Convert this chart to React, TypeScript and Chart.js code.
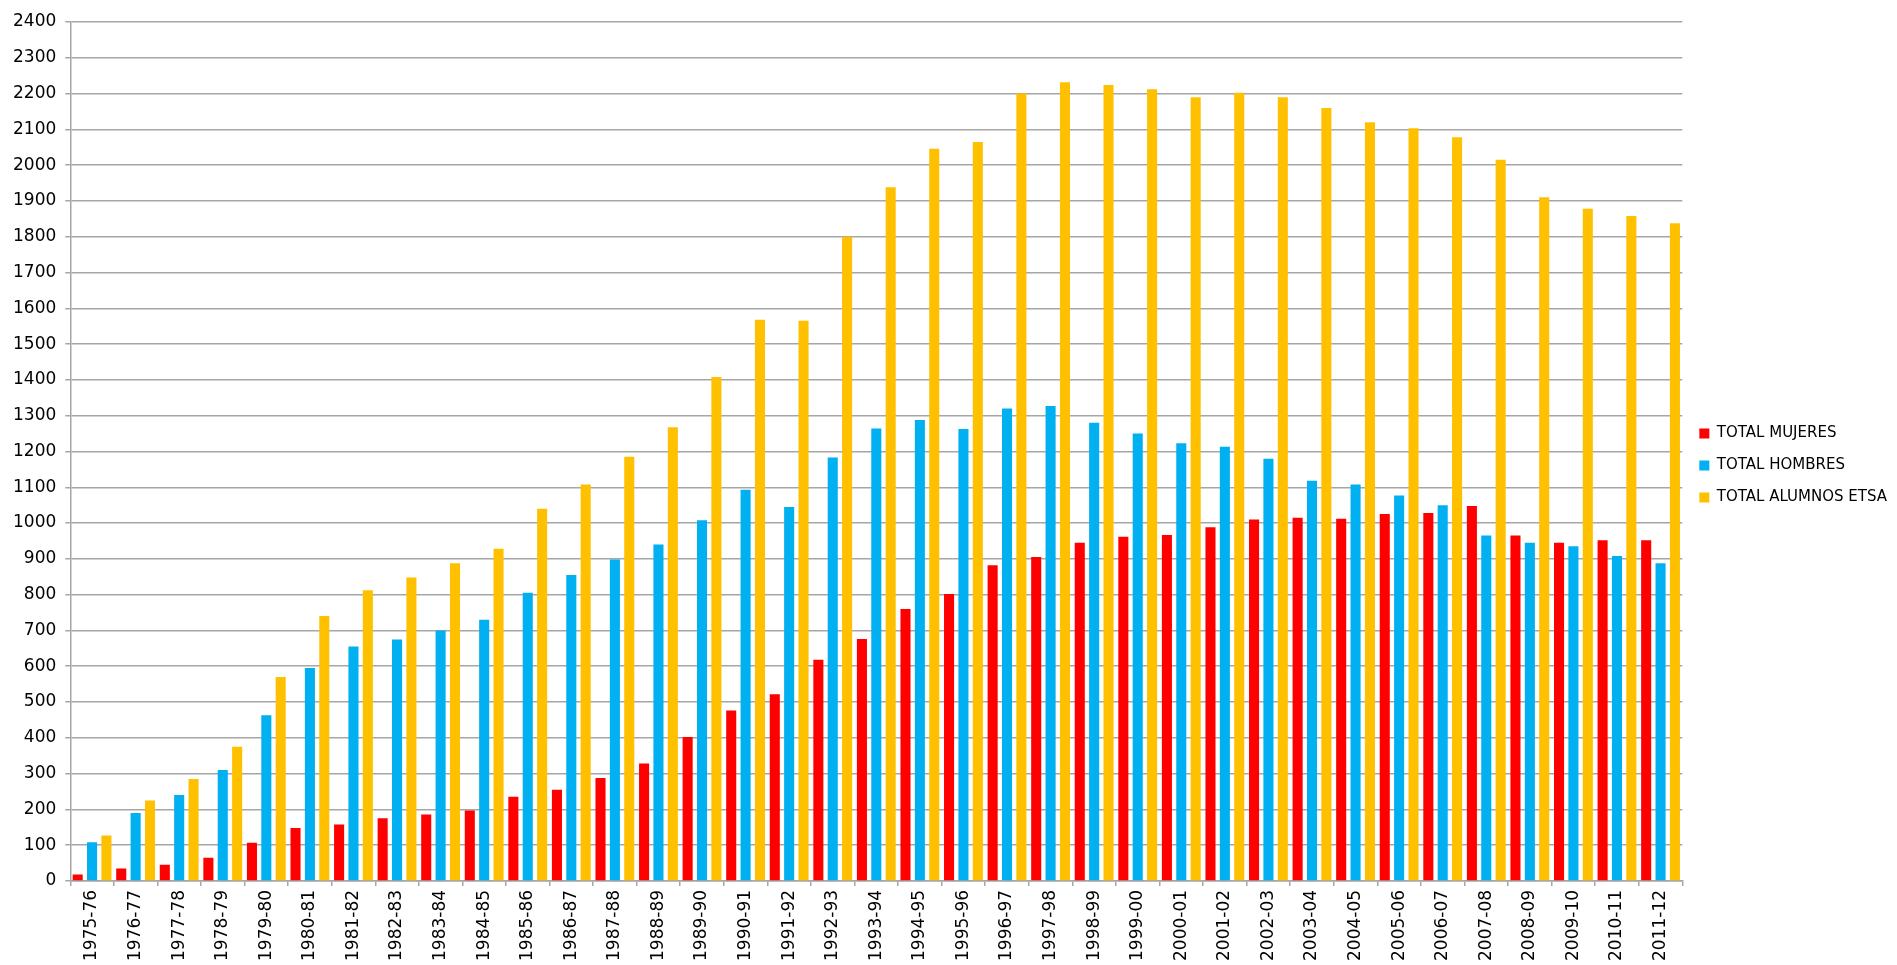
import { useEffect, useRef } from 'react'
import { Chart, registerables, type Plugin } from 'chart.js'

Chart.register(...registerables)

const COURSES = [
  '1975-76', '1976-77', '1977-78', '1978-79', '1979-80', '1980-81', '1981-82', '1982-83',
  '1983-84', '1984-85', '1985-86', '1986-87', '1987-88', '1988-89', '1989-90', '1990-91',
  '1991-92', '1992-93', '1993-94', '1994-95', '1995-96', '1996-97', '1997-98', '1998-99',
  '1999-00', '2000-01', '2001-02', '2002-03', '2003-04', '2004-05', '2005-06', '2006-07',
  '2007-08', '2008-09', '2009-10', '2010-11', '2011-12',
]

const MUJERES = [
  18, 35, 45, 65, 107, 148, 158, 175, 186, 197, 235, 255, 288, 328, 402, 476,
  522, 618, 676, 760, 802, 882, 905, 945, 962, 967, 988, 1010, 1015, 1012, 1025, 1028,
  1048, 965, 945, 952, 952,
]

const HOMBRES = [
  108, 190, 240, 310, 463, 595, 655, 675, 700, 730, 805, 855, 898, 940, 1008, 1093,
  1045, 1183, 1264, 1288, 1263, 1320, 1327, 1280, 1250, 1223, 1213, 1180, 1118, 1108, 1077, 1050,
  965, 945, 935, 908, 888,
]

const ALUMNOS = [
  127, 225, 285, 375, 570, 740, 812, 848, 888, 928, 1040, 1108, 1185, 1268, 1408, 1568,
  1565, 1800, 1938, 2046, 2065, 2200, 2232, 2224, 2212, 2190, 2202, 2190, 2160, 2120, 2103, 2078,
  2015, 1910, 1878, 1858, 1838,
]

const FONT = 'DejaVu Sans'
const GRID = '#a6a6a6'

// the legend sits a little above the vertical centre in the original
const liftLegend: Plugin<'bar'> = {
  id: 'liftLegend',
  afterLayout(chart) {
    const lg = chart.legend
    if (!lg) return
    lg.top -= 28
    lg.bottom -= 28
  },
}

export default function App() {
  const canvasRef = useRef<HTMLCanvasElement>(null)
  const chartRef = useRef<Chart | null>(null)

  useEffect(() => {
    document.body.style.margin = '0'
    if (!canvasRef.current) return
    chartRef.current?.destroy()

    const bar = { barPercentage: 0.7, categoryPercentage: 0.99, borderWidth: 0 }

    chartRef.current = new Chart(canvasRef.current, {
      type: 'bar',
      data: {
        labels: COURSES,
        datasets: [
          { label: 'TOTAL MUJERES', data: MUJERES, backgroundColor: '#ff0000', ...bar },
          { label: 'TOTAL HOMBRES', data: HOMBRES, backgroundColor: '#00b0f0', ...bar },
          { label: 'TOTAL ALUMNOS ETSA', data: ALUMNOS, backgroundColor: '#ffc000', ...bar },
        ],
      },
      plugins: [liftLegend],
      options: {
        responsive: true,
        maintainAspectRatio: false,
        animation: false,
        layout: { padding: { left: 4, top: 22, right: 0, bottom: 0 } },
        plugins: {
          tooltip: { enabled: false },
          legend: {
            position: 'right',
            labels: {
              boxWidth: 10,
              boxHeight: 10,
              padding: 17,
              color: '#000',
              font: { family: FONT, size: 15 },
            },
          },
        },
        scales: {
          x: {
            grid: { display: true, drawOnChartArea: false, color: GRID, tickLength: 5, lineWidth: 1.5 },
            border: { color: GRID, width: 1.5 },
            ticks: {
              color: '#000',
              minRotation: 90,
              maxRotation: 90,
              autoSkip: false,
              padding: 4,
              font: { family: FONT, size: 17 },
            },
          },
          y: {
            min: 0,
            max: 2400,
            grid: { color: GRID, lineWidth: 1.5, tickLength: 5 },
            border: { color: GRID, width: 1.5 },
            ticks: {
              stepSize: 100,
              color: '#000',
              padding: 9,
              font: { family: FONT, size: 17 },
              callback: (v) => String(v),
            },
          },
        },
      },
    })

    return () => {
      chartRef.current?.destroy()
      chartRef.current = null
    }
  }, [])

  return (
    <div style={{ position: 'fixed', left: 0, top: 0, width: 1897, height: 965, background: '#fff' }}>
      <canvas ref={canvasRef} />
    </div>
  )
}
